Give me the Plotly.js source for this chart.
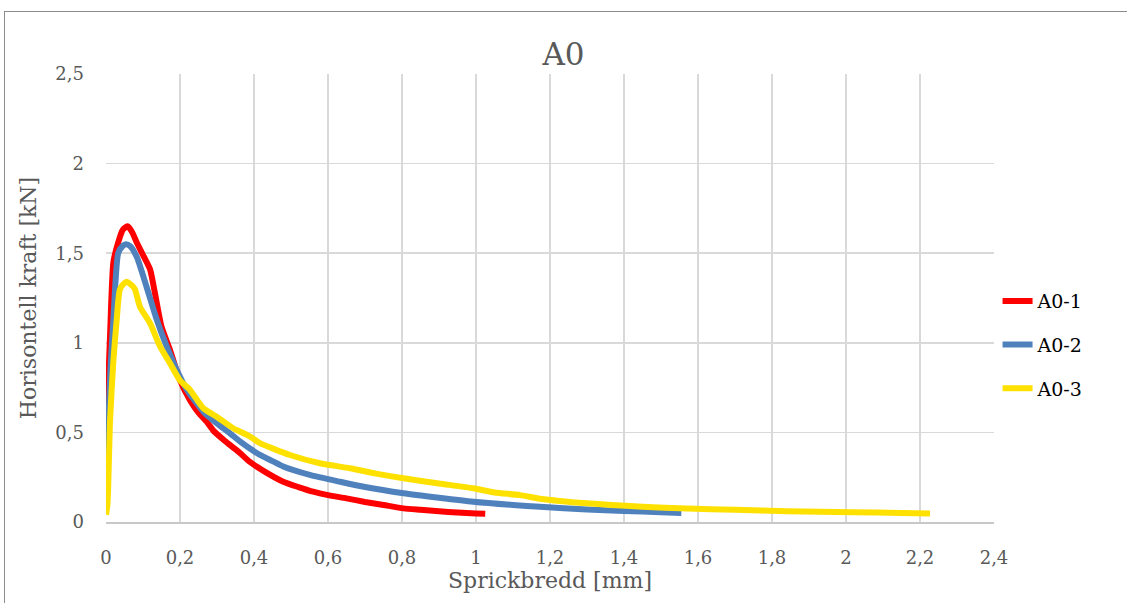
<!DOCTYPE html>
<html><head><meta charset="utf-8">
<script src="https://cdn.plot.ly/plotly-3.0.1.min.js"></script>
<style>
html,body{margin:0;padding:0;overflow:hidden;background:#fff;}
#frame{position:absolute;left:4px;top:11px;width:1300px;height:800px;border:1.5px solid #8c8c8c;box-sizing:border-box;}
#chart{position:absolute;left:0;top:0;width:1127px;height:603px;}
</style></head>
<body>
<div id="frame"></div>
<div id="chart"></div>
<script>
const seriesNames = ["A0-1", "A0-2", "A0-3"];
const colors = ["#FF0000", "#4F81BD", "#FFE100"];

const a01x = [0, 0.003, 0.006, 0.012, 0.02, 0.033, 0.045, 0.058, 0.07, 0.083, 0.1, 0.119, 0.132, 0.15, 0.173, 0.2, 0.227, 0.25, 0.272, 0.29, 0.32, 0.344, 0.362, 0.389, 0.43, 0.479, 0.52, 0.56, 0.6, 0.65, 0.7, 0.75, 0.804, 0.85, 0.9, 0.95, 1.0, 1.025];
const a01y = [0.05, 0.4, 0.75, 1.1, 1.45, 1.56, 1.63, 1.65, 1.62, 1.56, 1.49, 1.41, 1.28, 1.09, 0.96, 0.79, 0.68, 0.61, 0.56, 0.51, 0.455, 0.415, 0.385, 0.335, 0.28, 0.225, 0.195, 0.169, 0.15, 0.132, 0.112, 0.095, 0.076, 0.068, 0.06, 0.053, 0.048, 0.046];

const a02x = [0, 0.003, 0.006, 0.012, 0.02, 0.033, 0.045, 0.054, 0.065, 0.083, 0.11, 0.137, 0.164, 0.191, 0.218, 0.263, 0.3, 0.335, 0.362, 0.389, 0.416, 0.45, 0.479, 0.551, 0.632, 0.7, 0.804, 0.9, 0.993, 1.1, 1.173, 1.3, 1.4, 1.5, 1.555];
const a02y = [0.05, 0.3, 0.53, 0.85, 1.13, 1.50, 1.54, 1.55, 1.54, 1.48, 1.31, 1.13, 0.98, 0.85, 0.74, 0.616, 0.55, 0.495, 0.45, 0.41, 0.374, 0.34, 0.31, 0.263, 0.225, 0.195, 0.16, 0.135, 0.113, 0.095, 0.085, 0.07, 0.062, 0.055, 0.05];

const a03x = [0, 0.004, 0.011, 0.02, 0.029, 0.038, 0.054, 0.07, 0.078, 0.092, 0.119, 0.146, 0.173, 0.2, 0.227, 0.263, 0.299, 0.344, 0.389, 0.416, 0.497, 0.578, 0.659, 0.73, 0.804, 0.9, 0.993, 1.05, 1.119, 1.173, 1.3, 1.45, 1.57, 1.7, 1.84, 2.02, 2.15, 2.227];
const a03y = [0.04, 0.1, 0.57, 0.9, 1.13, 1.30, 1.34, 1.32, 1.30, 1.20, 1.11, 0.98, 0.886, 0.79, 0.737, 0.635, 0.588, 0.523, 0.477, 0.44, 0.374, 0.328, 0.30, 0.27, 0.244, 0.215, 0.188, 0.165, 0.15, 0.13, 0.104, 0.085, 0.075, 0.068, 0.06, 0.055, 0.05, 0.047];

const xs = [a01x, a02x, a03x];
const ys = [a01y, a02y, a03y];

const font = "DejaVu Serif, Liberation Serif, serif";
const traces = seriesNames.map((n, i) => ({
  type: "scatter", mode: "lines", name: n, x: xs[i], y: ys[i],
  line: {color: colors[i], width: 6, shape: "spline", smoothing: 0.6},
  legendgroup: n
}));

const layout = {
  width: 1127, height: 603,
  margin: {l: 106, r: 133, t: 74, b: 81},
  paper_bgcolor: "rgba(0,0,0,0)", plot_bgcolor: "rgba(0,0,0,0)",
  separators: ",.",
  font: {family: font, color: "#595959", size: 18},
  title: {text: "A0", x: 0.5, xanchor: "center", y: 0.91, yanchor: "middle", font: {size: 31, color: "#595959", family: font}},
  xaxis: {
    range: [0, 2.4], dtick: 0.2, tick0: 0, showgrid: true, gridcolor: "#d9d9d9", gridwidth: 1.5,
    zeroline: false, showline: true, linecolor: "#c8c8c8", linewidth: 1.5,
    ticks: "", ticklabelstandoff: 19, tickfont: {size: 18, color: "#595959", family: font},
    title: {text: "Sprickbredd [mm]", font: {size: 22, color: "#595959", family: font}, standoff: 2}
  },
  yaxis: {
    range: [0, 2.5], dtick: 0.5, tick0: 0, showgrid: true, gridcolor: "#d9d9d9", gridwidth: 1.5,
    zeroline: false, showline: false, ticks: "", ticklabelstandoff: 21,
    tickfont: {size: 18, color: "#595959", family: font},
    title: {text: "Horisontell kraft [kN]", font: {size: 22, color: "#595959", family: font}, standoff: 12}
  },
  showlegend: true,
  legend: {x: 1.004, xanchor: "left", y: 0.395, yanchor: "middle", font: {size: 19, color: "#000", family: font},
           tracegroupgap: 16, bgcolor: "rgba(0,0,0,0)"}
};

Plotly.newPlot("chart", traces, layout, {displayModeBar: false, staticPlot: true});
</script>
</body></html>
